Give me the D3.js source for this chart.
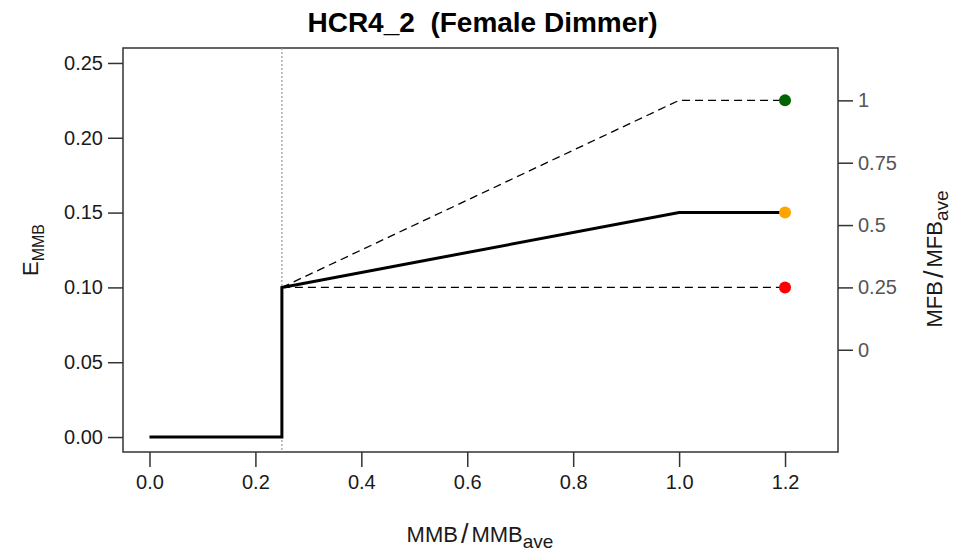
<!DOCTYPE html>
<html>
<head>
<meta charset="utf-8">
<script src="https://cdn.jsdelivr.net/npm/d3@7"></script>
<style>
  body { margin: 0; background: #fff; }
  svg { font-family: "Liberation Sans", Arial, sans-serif; }
</style>
</head>
<body>
<svg id="chart" width="953" height="552"></svg>
<script>
// HCR4_2 harvest control rule
const x_ticks = [0.0, 0.2, 0.4, 0.6, 0.8, 1.0, 1.2];
const y_ticks = [0.00, 0.05, 0.10, 0.15, 0.20, 0.25];
const right_ticks = [0, 0.25, 0.5, 0.75, 1];
const right_labels = ['0', '0.25', '0.5', '0.75', '1'];

const rule_x = [0, 0.25, 0.25, 1.0, 1.2];
const rule_y = [0, 0, 0.10, 0.15, 0.15];
const upper_x = [0.25, 1.0, 1.2];
const upper_y = [0.10, 0.225, 0.225];
const lower_x = [0.25, 1.2];
const lower_y = [0.10, 0.10];

const point_x = [1.2, 1.2, 1.2];
const point_y = [0.225, 0.15, 0.10];
const point_col = ['#006400', '#ffa500', '#ff0000'];

const threshold = 0.25;

const svg = d3.select('#chart');
const box = { left: 123, right: 838, top: 48, bottom: 452 };

const x = d3.scaleLinear().domain([-0.05, 1.3]).range([box.left, box.right]);
const y = d3.scaleLinear().domain([-0.01, 0.26]).range([box.bottom, box.top]);
// right axis: 0.25 sits on E = 0.10 and 1 on E = 0.225
const yr = d3.scaleLinear().domain([0.25, 1]).range([y(0.10), y(0.225)]);

const fmt2 = d3.format('.2f');
const fmt1 = d3.format('.1f');

// axes
const bottom_axis = svg.append('g')
  .attr('transform', `translate(0,${box.bottom})`)
  .call(d3.axisBottom(x).tickValues(x_ticks).tickFormat(fmt1).tickSize(15).tickPadding(8));
const left_axis = svg.append('g')
  .attr('transform', `translate(${box.left},0)`)
  .call(d3.axisLeft(y).tickValues(y_ticks).tickFormat(fmt2).tickSize(15).tickPadding(5));
const right_axis = svg.append('g')
  .attr('transform', `translate(${box.right},0)`)
  .call(d3.axisRight(yr).tickValues(right_ticks).tickFormat((d, i) => right_labels[i]).tickSize(15).tickPadding(5));

[bottom_axis, left_axis, right_axis].forEach(function (g) {
  g.select('.domain').remove();
  g.selectAll('line').attr('stroke', '#333').attr('stroke-width', 1.5);
  g.selectAll('text').style('font-size', '20px').attr('fill', '#1a1a1a');
});
right_axis.selectAll('text').attr('fill', '#555');

// box
svg.append('rect')
  .attr('x', box.left).attr('y', box.top)
  .attr('width', box.right - box.left).attr('height', box.bottom - box.top)
  .attr('fill', 'none').attr('stroke', '#333').attr('stroke-width', 1.5);

// threshold
svg.append('line')
  .attr('x1', x(threshold)).attr('x2', x(threshold))
  .attr('y1', box.top).attr('y2', box.bottom)
  .attr('stroke', '#999').attr('stroke-width', 1.2).attr('stroke-dasharray', '2,2');

const line = d3.line().x(d => x(d[0])).y(d => y(d[1]));

svg.append('path')
  .attr('d', line(d3.zip(upper_x, upper_y)))
  .attr('fill', 'none').attr('stroke', '#000').attr('stroke-width', 1.3)
  .attr('stroke-dasharray', '8,5');
svg.append('path')
  .attr('d', line(d3.zip(lower_x, lower_y)))
  .attr('fill', 'none').attr('stroke', '#000').attr('stroke-width', 1.3)
  .attr('stroke-dasharray', '8,5');
svg.append('path')
  .attr('d', line(d3.zip(rule_x, rule_y)))
  .attr('fill', 'none').attr('stroke', '#000').attr('stroke-width', 3);

svg.append('g').selectAll('circle')
  .data(d3.zip(point_x, point_y, point_col))
  .join('circle')
  .attr('cx', d => x(d[0])).attr('cy', d => y(d[1]))
  .attr('r', 6).attr('fill', d => d[2]);

// title
svg.append('text')
  .attr('x', (box.left + box.right) / 2 + 2).attr('y', 32)
  .attr('text-anchor', 'middle')
  .style('font-size', '28px').style('font-weight', 'bold')
  .attr('xml:space', 'preserve')
  .text('HCR4_2  (Female Dimmer)');

// ratio label like plotmath  A / B[ave]
const ratio_label = function (sel, top, bottom) {
  sel.append('tspan').text(top);
  sel.append('tspan').style('font-size', '27px').style('font-weight', '300')
    .attr('dx', 3).attr('dy', 1).text('/');
  sel.append('tspan').attr('dx', 3).attr('dy', -1).text(bottom);
  sel.append('tspan').style('font-size', '19px').attr('dy', 6).text('ave');
};

// x label
const xl = svg.append('text')
  .attr('x', 480).attr('y', 542)
  .attr('text-anchor', 'middle')
  .style('font-size', '22px').attr('fill', '#1a1a1a');
ratio_label(xl, 'MMB', 'MMB');

// left y label
const yl = svg.append('text')
  .attr('transform', `translate(38,250) rotate(-90)`)
  .attr('text-anchor', 'middle')
  .style('font-size', '22px').attr('fill', '#1a1a1a');
yl.append('tspan').text('E');
yl.append('tspan').style('font-size', '16px').attr('dy', 6).text('MMB');

// right y label
const rl = svg.append('text')
  .attr('transform', `translate(942,259) rotate(-90)`)
  .attr('text-anchor', 'middle')
  .style('font-size', '22px').attr('fill', '#1a1a1a');
ratio_label(rl, 'MFB', 'MFB');
</script>
</body>
</html>
